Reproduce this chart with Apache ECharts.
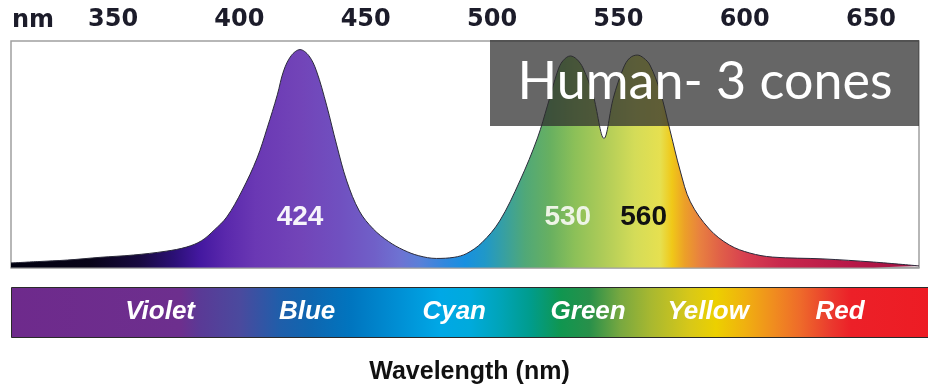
<!DOCTYPE html>
<html>
<head>
<meta charset="utf-8">
<script src="https://cdn.jsdelivr.net/npm/echarts@6/dist/echarts.min.js"></script>
<style>
  html, body { margin: 0; padding: 0; background: #fff; }
  #chart { width: 928px; height: 389px; }
</style>
</head>
<body>
<div id="chart"></div>
<script>
// sensitivity curve (nm, relative response)
const wavelengths = [309.6, 320, 332, 345, 358, 371, 379, 385, 390, 395, 401, 407, 411, 415, 417.5, 420.5, 424, 427.5, 430.5, 434.5, 438.5, 442.5, 447.5, 453, 459, 465, 471, 478, 485, 490, 496, 503, 511, 518, 522, 526, 528, 531, 533.5, 536, 540, 544.3, 548, 552, 554.5, 557.5, 560, 562.5, 566.5, 570.5, 574.5, 578.5, 586, 594, 602, 611, 631, 651, 669];
const response = [0.020, 0.026, 0.033, 0.045, 0.055, 0.072, 0.090, 0.118, 0.165, 0.223, 0.338, 0.483, 0.616, 0.762, 0.868, 0.935, 0.962, 0.935, 0.868, 0.717, 0.541, 0.382, 0.249, 0.170, 0.115, 0.077, 0.052, 0.040, 0.045, 0.062, 0.110, 0.205, 0.382, 0.572, 0.717, 0.868, 0.912, 0.934, 0.920, 0.881, 0.762, 0.570, 0.748, 0.881, 0.925, 0.938, 0.925, 0.894, 0.779, 0.603, 0.426, 0.290, 0.170, 0.099, 0.064, 0.046, 0.038, 0.024, 0.007];

const tickLabels = [350, 400, 450, 500, 550, 600, 650];

const peakNames = ['424', '530', '560'];
const peakNm = [424, 530, 560];
const peakLabelLevel = 0.22;
const peakColors = ['#f6f4fb', '#eef4e6', '#111111'];

const bandNames = ['Violet', 'Blue', 'Cyan', 'Green', 'Yellow', 'Red'];
const bandNm = [368.6, 426.8, 485, 538, 585.5, 637.7];

const xMin = 309.6, xMax = 669, bandMax = 672.5;

const chart = echarts.init(document.getElementById('chart'));

const areaGradient = new echarts.graphic.LinearGradient(0, 0, 1, 0, [
  { offset: 0, color: '#000010' },
  { offset: 0.087, color: '#080418' },
  { offset: 0.142, color: '#180a40' },
  { offset: 0.181, color: '#2c1078' },
  { offset: 0.208, color: '#4418a0' },
  { offset: 0.236, color: '#5a28ac' },
  { offset: 0.269, color: '#6a38b4' },
  { offset: 0.318, color: '#7244b8' },
  { offset: 0.362, color: '#7050c0' },
  { offset: 0.401, color: '#7060c8' },
  { offset: 0.428, color: '#6e72d2' },
  { offset: 0.45, color: '#5a80d8' },
  { offset: 0.478, color: '#3088de' },
  { offset: 0.5, color: '#1890e0' },
  { offset: 0.522, color: '#2098c8' },
  { offset: 0.544, color: '#38a0a0' },
  { offset: 0.566, color: '#50a878' },
  { offset: 0.594, color: '#68b060' },
  { offset: 0.621, color: '#8cc058' },
  { offset: 0.654, color: '#b0cc58' },
  { offset: 0.687, color: '#d4dc58' },
  { offset: 0.715, color: '#e6e050' },
  { offset: 0.728, color: '#f0c818' },
  { offset: 0.742, color: '#eca028' },
  { offset: 0.759, color: '#e88040' },
  { offset: 0.781, color: '#e06048' },
  { offset: 0.808, color: '#d84050' },
  { offset: 0.847, color: '#c8284c' },
  { offset: 0.924, color: '#b81848' },
  { offset: 1, color: '#a01040' }
]);

const bandGradient = new echarts.graphic.LinearGradient(0, 0, 1, 0, [
  { offset: 0, color: '#6e2a8c' },
  { offset: 0.185, color: '#6d2f8e' },
  { offset: 0.206, color: '#5a3a96' },
  { offset: 0.25, color: '#4a4a9e' },
  { offset: 0.293, color: '#1f5eaa' },
  { offset: 0.326, color: '#0f66b0' },
  { offset: 0.37, color: '#0075bf' },
  { offset: 0.424, color: '#0090d5' },
  { offset: 0.468, color: '#00a8e6' },
  { offset: 0.5, color: '#00aadc' },
  { offset: 0.533, color: '#00a4b8' },
  { offset: 0.566, color: '#009c8c' },
  { offset: 0.599, color: '#109650' },
  { offset: 0.63, color: '#28904a' },
  { offset: 0.664, color: '#78a840' },
  { offset: 0.697, color: '#a8b830' },
  { offset: 0.74, color: '#d8c818' },
  { offset: 0.768, color: '#ecd000' },
  { offset: 0.8, color: '#f0b010' },
  { offset: 0.833, color: '#f08a20' },
  { offset: 0.86, color: '#ee6a2a' },
  { offset: 0.893, color: '#ea3a2e' },
  { offset: 0.915, color: '#ec2028' },
  { offset: 1, color: '#ed1c24' }
]);

const labelFont = { fontFamily: 'DejaVu Sans', fontWeight: 'bold', fontSize: 24, color: '#1c1c2a' };

const option = {
  animation: false,
  grid: [
    { left: 11, right: 9, top: 41, bottom: 121.5, show: true, borderColor: '#a0a0a0', borderWidth: 1.5 },
    { left: 11, right: 0, top: 287, height: 50 }
  ],
  xAxis: [
    {
      type: 'value',
      gridIndex: 0,
      position: 'top',
      min: xMin,
      max: xMax,
      axisLine: { show: true, lineStyle: { color: '#a0a0a0', width: 1.5 } },
      axisTick: { show: false },
      splitLine: { show: false },
      axisLabel: { customValues: tickLabels, margin: 9, ...labelFont }
    },
    {
      type: 'value',
      gridIndex: 1,
      min: xMin,
      max: bandMax,
      axisLine: { show: false },
      axisTick: { show: false },
      axisLabel: { show: false },
      splitLine: { show: false },
      name: 'Wavelength (nm)',
      nameLocation: 'middle',
      nameGap: 23,
      nameTextStyle: { fontFamily: 'Liberation Sans', fontWeight: 'bold', fontSize: 25, color: '#111' }
    }
  ],
  yAxis: [
    { type: 'value', gridIndex: 0, min: 0, max: 1, show: false },
    { type: 'value', gridIndex: 1, min: 0, max: 1, show: false }
  ],
  graphic: [
    {
      type: 'rect',
      left: 11, top: 287, z: 0,
      shape: { width: 917, height: 50 },
      style: { fill: bandGradient, stroke: '#2a2a2a', lineWidth: 1 }
    },
    {
      type: 'text',
      x: 33, y: 21, z: 10,
      style: { text: 'nm', textAlign: 'center', textVerticalAlign: 'middle', font: 'bold 24px "DejaVu Sans"', fill: '#1c1c2a' }
    },
    {
      type: 'rect',
      left: 490, top: 40, z: 20,
      shape: { width: 429, height: 86 },
      style: { fill: 'rgba(45,45,45,0.73)' }
    },
    {
      type: 'text',
      x: 705, y: 82, z: 21,
      style: { text: 'Human- 3 cones', textAlign: 'center', textVerticalAlign: 'middle', font: '52px Lato', fill: '#ffffff' }
    }
  ],
  series: [
    {
      type: 'line',
      xAxisIndex: 0,
      yAxisIndex: 0,
      data: wavelengths.map((w, i) => [w, response[i]]),
      smooth: 0.35,
      symbol: 'none',
      lineStyle: { color: '#2a2a3a', width: 1 },
      areaStyle: { color: areaGradient, opacity: 1 },
      markPoint: {
        symbol: 'circle',
        symbolSize: 0,
        data: peakNm.map((nm, i) => ({
          coord: [nm, peakLabelLevel],
          label: {
            show: true,
            position: 'inside',
            formatter: peakNames[i],
            fontFamily: 'Liberation Sans',
            fontWeight: 'bold',
            fontSize: 28,
            color: peakColors[i]
          }
        }))
      }
    },
    {
      type: 'scatter',
      xAxisIndex: 1,
      yAxisIndex: 1,
      data: bandNm.map((nm, i) => [nm, 0.5, bandNames[i]]),
      symbolSize: 0,
      z: 5,
      itemStyle: { opacity: 1 },
      label: {
        show: true,
        position: 'inside',
        formatter: (p) => p.data[2],
        fontFamily: 'Liberation Sans',
        fontWeight: 'bold',
        fontStyle: 'italic',
        fontSize: 26,
        color: '#ffffff',
        opacity: 1
      }
    }
  ]
};

chart.setOption(option);
</script>
</body>
</html>
